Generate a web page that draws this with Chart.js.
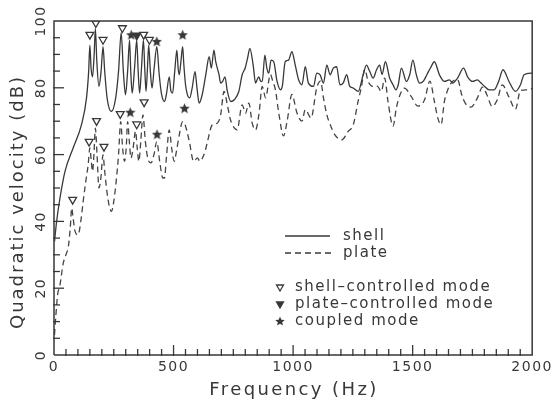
<!DOCTYPE html>
<html>
<head>
<meta charset="utf-8">
<script src="https://cdn.jsdelivr.net/npm/chart.js@4.4.1/dist/chart.umd.min.js"></script>
<style>
  body { margin: 0; background: #fff; }
  canvas { display: block; }
</style>
</head>
<body>
<canvas id="chart" width="554" height="405"></canvas>
<script>
// shell response (solid)
const shellFreq = [2, 11, 25, 46, 80, 115, 136, 145, 150, 155, 161, 168, 173, 179, 188, 197, 205, 212, 222, 240,
  258, 270, 281, 290, 299, 308, 316, 321, 327, 337, 346, 352, 358, 366, 374, 380, 385, 391, 396, 403,
  410, 419, 430, 440, 450, 462, 470, 482, 489, 496, 505, 514, 519, 524, 531, 538, 543, 550, 558, 568,
  578, 590, 598, 607, 620, 635, 649, 658, 669, 676, 683, 690, 697, 706, 715, 725, 739, 755, 773, 787,
  800, 810, 819, 833, 843, 850, 857, 864, 871, 882, 890, 898, 908, 919, 933, 947, 955, 967, 981, 995,
  1009, 1023, 1037, 1051, 1064, 1085, 1099, 1113, 1127, 1141, 1155, 1168, 1182, 1196, 1210, 1224, 1237, 1250, 1272, 1293,
  1307, 1320, 1335, 1349, 1362, 1372, 1386, 1404, 1418, 1430, 1440, 1453, 1474, 1488, 1501, 1515, 1529, 1545, 1560, 1575,
  1591, 1612, 1633, 1654, 1667, 1688, 1713, 1730, 1751, 1771, 1785, 1800, 1820, 1841, 1860, 1878, 1903, 1930, 1951, 1966,
  2000];
const shellDb = [34, 40, 47, 55, 62, 69, 77, 85, 92.8, 86, 83.3, 90, 97.8, 88, 80.4, 85, 92.3, 85, 77, 72.9,
  77, 85, 96.5, 85, 77.9, 85, 94.3, 85, 78.4, 86, 94.3, 85, 78.4, 86, 94.3, 85, 78.9, 86, 92.8, 85,
  79.9, 86, 92.3, 84, 78, 75.9, 78, 83.3, 79, 78.4, 85, 91.3, 86, 83.9, 88, 92.3, 87, 81, 77.9, 77,
  80, 84.8, 80, 75.4, 78, 84, 89.3, 85.9, 91.3, 88, 85.9, 84, 81.4, 82, 83.3, 79, 75.9, 76.5, 78.9, 83.9,
  86, 89, 91.8, 86.8, 81.4, 82.5, 83.3, 82, 81.9, 89.8, 86, 84.4, 88.3, 87.8, 81.9, 79.4, 80.5, 87.8, 88.3, 90.8,
  86.8, 82.4, 80.9, 86.3, 81.4, 80.4, 84.4, 83.9, 81.4, 86.8, 83.9, 85.9, 86.3, 80.9, 81.5, 83.9, 80.4, 80, 78.9, 83.9,
  86.8, 85, 82.9, 85.4, 86.8, 84, 87.8, 82.9, 80.9, 79.4, 81, 85.9, 81.9, 84, 88.3, 84, 81.4, 82, 84, 86,
  87.8, 83.9, 81.9, 82.4, 81.4, 82.9, 85.9, 83.3, 81.9, 82.4, 81.5, 80.5, 79.4, 79.4, 82, 85.4, 81.9, 78.9, 80.9, 83.9,
  84.4];

// plate response (dashed)
const plateFreq = [2, 8, 15, 25, 39, 50, 60, 68, 74, 80, 88, 101, 112, 122, 133, 143, 150, 156, 161, 167,
  173, 180, 188, 196, 205, 212, 225, 240, 250, 260, 270, 279, 287, 295, 302, 308, 315, 322, 331, 341,
  348, 355, 363, 372, 382, 392, 406, 418, 430, 442, 455, 462, 470, 482, 492, 503, 512, 524, 538, 548,
  556, 566, 584, 600, 610, 621, 632, 642, 662, 683, 697, 711, 725, 736, 746, 766, 787, 801, 815, 829,
  843, 857, 871, 885, 905, 915, 926, 940, 960, 975, 995, 1016, 1037, 1051, 1075, 1099, 1115, 1127, 1141, 1155,
  1175, 1203, 1231, 1252, 1272, 1285, 1300, 1314, 1335, 1352, 1369, 1383, 1397, 1418, 1432, 1445, 1466, 1494, 1522, 1550,
  1572, 1591, 1605, 1619, 1633, 1645, 1661, 1688, 1705, 1720, 1744, 1771, 1792, 1810, 1833, 1854, 1875, 1903, 1930, 1951,
  1979, 2000];
const plateDb = [6, 12, 18, 21, 27.6, 30, 32.5, 38, 44, 41, 37, 36, 40, 46, 52, 57, 62, 58, 55, 60,
  67.9, 60, 50, 53, 59.9, 55, 47, 43, 46, 52, 60, 69.9, 62, 58, 62, 69.9, 64, 59, 62, 67,
  62, 58, 64, 71.9, 64, 59, 57.5, 60, 63.9, 58, 53, 53, 59, 67.4, 62, 58, 61, 65.9, 69.9, 69,
  67, 63.9, 58, 59, 58, 59, 61, 63.9, 68.9, 69.4, 71.9, 78.9, 74.9, 71, 68.9, 67.4, 74.9, 72.4, 75.4, 69.4,
  67.4, 72, 80.4, 77, 84, 82, 79.4, 72.5, 65.6, 70, 78, 72.5, 70, 73.5, 71, 80, 82, 77, 72, 69,
  65.9, 64.4, 67, 69, 76, 80, 85.5, 81.9, 80.4, 80.5, 78.9, 82.9, 75.9, 68.5, 74, 77.5, 79.9, 77.4, 74.5, 76.4,
  82, 75.9, 71, 69, 76, 79, 81.4, 82.5, 78, 75.4, 74.2, 77, 80.2, 78, 74.4, 76.4, 80.9, 77.2, 73.6, 79.2,
  79.4, 79.8];

// mode markers
const shellCtrlFreq = [150, 175, 205, 286, 375, 399, 78, 147, 178, 209, 277, 346, 377];
const shellCtrlDb = [95.9, 99.4, 94.4, 97.9, 95.9, 94.4, 46.5, 63.9, 70.1, 62.4, 72.2, 69.1, 75.7];
const plateCtrlFreq = [346];
const plateCtrlDb = [95.7];
const coupledFreq = [323, 430, 538, 319, 431, 546];
const coupledDb = [95.9, 93.9, 95.9, 72.7, 66.1, 73.9];

const xRange = [0, 2000];
const yRange = [0, 100];
const xTicks = [0, 500, 1000, 1500, 2000];
const yTicks = [0, 20, 40, 60, 80, 100];
const xMinorStep = 50;
const yMinorStep = 5;

const ink = "#383838";
const font = "'DejaVu Sans', sans-serif";

function pairs(xs, ys) {
  return xs.map(function (v, i) { return { x: v, y: ys[i] }; });
}

// outline of the plot box, from the axis limits
const boxPts = [
  { x: xRange[0], y: yRange[0] }, { x: xRange[0], y: yRange[1] },
  { x: xRange[1], y: yRange[1] }, { x: xRange[1], y: yRange[0] },
  { x: xRange[0], y: yRange[0] },
];

function makeStar(size, color) {
  const c = document.createElement("canvas");
  c.width = size; c.height = size;
  const g = c.getContext("2d");
  const r = size / 2, ri = r * 0.45;
  g.beginPath();
  for (let i = 0; i < 10; i++) {
    const a = -Math.PI / 2 + i * Math.PI / 5;
    const rr = i % 2 ? ri : r;
    g.lineTo(r + Math.cos(a) * rr, r + Math.sin(a) * rr + 0.5);
  }
  g.closePath();
  g.fillStyle = color;
  g.fill();
  return c;
}
const star = makeStar(11, ink);
const starSmall = makeStar(10, ink);

function seg(g, x1, y1, x2, y2) {
  g.beginPath();
  g.moveTo(x1, y1);
  g.lineTo(x2, y2);
  g.stroke();
}

// inward ticks, rotated y labels, titles and legend
const frame = {
  id: "frame",
  beforeDraw(chart) {
    chart.ctx.letterSpacing = "1.5px";
  },
  afterDraw(chart) {
    const g = chart.ctx;
    const sx = chart.scales.x, sy = chart.scales.y;
    const left = sx.getPixelForValue(xRange[0]);
    const bottom = sy.getPixelForValue(yRange[0]);
    g.save();
    g.setLineDash([]);
    g.strokeStyle = ink;
    g.fillStyle = ink;
    g.lineWidth = 1.3;
    for (let v = xMinorStep; v < xRange[1]; v += xMinorStep) {
      const px = sx.getPixelForValue(v);
      const len = v % 500 === 0 ? 10 : 6;
      seg(g, px, bottom + 1, px, bottom - len);
    }
    for (let v = yMinorStep; v < yRange[1]; v += yMinorStep) {
      const py = sy.getPixelForValue(v);
      const len = v % 20 === 0 ? 10 : 6;
      seg(g, left - 1, py, left + len, py);
    }

    g.textAlign = "center";
    g.textBaseline = "middle";
    g.font = "14px " + font;
    g.letterSpacing = "1.5px";
    yTicks.forEach(function (v) {
      g.save();
      g.translate(41, sy.getPixelForValue(v));
      g.rotate(-Math.PI / 2);
      g.fillText(String(v), 0, 0);
      g.restore();
    });

    g.font = "18px " + font;
    g.letterSpacing = "2.4px";
    g.fillText("Frequency (Hz)", 294, 390);
    g.letterSpacing = "2px";
    g.save();
    g.translate(18, 202);
    g.rotate(-Math.PI / 2);
    g.fillText("Quadratic velocity (dB)", 0, 0);
    g.restore();

    // legend
    g.lineWidth = 1.3;
    seg(g, 285, 236, 330, 236);
    g.setLineDash([6, 4]);
    seg(g, 285, 253, 331, 253);
    g.setLineDash([]);

    g.font = "15px " + font;
    g.letterSpacing = "1.5px";
    g.textAlign = "left";
    g.fillText("shell", 343, 236);
    g.fillText("plate", 343, 253);
    g.fillText("shell–controlled mode", 295, 287);
    g.fillText("plate–controlled mode", 295, 304);
    g.fillText("coupled mode", 295, 321);

    g.fillStyle = "#fff";
    Chart.helpers.drawPoint(g, { pointStyle: "triangle", radius: 4, rotation: 180, borderWidth: 1.3 }, 280, 287);
    g.fillStyle = ink;
    Chart.helpers.drawPoint(g, { pointStyle: "triangle", radius: 4, rotation: 180, borderWidth: 1.3 }, 280, 304);
    Chart.helpers.drawPoint(g, { pointStyle: starSmall, radius: 5, rotation: 0, borderWidth: 0 }, 280, 321);
    g.restore();
  }
};

const ctx = document.getElementById("chart").getContext("2d");
const myChart = new Chart(ctx, {
  type: "line",
  data: {
    datasets: [
      {
        label: "box",
        data: boxPts,
        borderColor: ink,
        borderWidth: 1.5,
        pointRadius: 0,
        tension: 0,
        clip: false,
      },
      {
        label: "shell",
        data: pairs(shellFreq, shellDb),
        borderColor: ink,
        borderWidth: 1.3,
        pointRadius: 0,
        cubicInterpolationMode: "monotone",
      },
      {
        label: "plate",
        data: pairs(plateFreq, plateDb),
        borderColor: "#444",
        borderWidth: 1.3,
        borderDash: [6, 4],
        pointRadius: 0,
        cubicInterpolationMode: "monotone",
      },
      {
        label: "shell-controlled mode",
        data: pairs(shellCtrlFreq, shellCtrlDb),
        showLine: false,
        pointStyle: "triangle",
        rotation: 180,
        pointRadius: 4.5,
        pointBorderWidth: 1.3,
        pointBackgroundColor: "#fff",
        pointBorderColor: ink,
      },
      {
        label: "plate-controlled mode",
        data: pairs(plateCtrlFreq, plateCtrlDb),
        showLine: false,
        pointStyle: "triangle",
        rotation: 180,
        pointRadius: 4.5,
        pointBorderWidth: 1.3,
        pointBackgroundColor: ink,
        pointBorderColor: ink,
      },
      {
        label: "coupled mode",
        data: pairs(coupledFreq, coupledDb),
        showLine: false,
        pointStyle: star,
        pointRadius: 5,
      },
    ],
  },
  options: {
    responsive: false,
    animation: false,
    devicePixelRatio: 1,
    layout: { padding: { top: 21, right: 19, left: 0, bottom: 0 } },
    plugins: { legend: { display: false }, tooltip: { enabled: false } },
    scales: {
      x: {
        type: "linear",
        min: xRange[0],
        max: xRange[1],
        afterBuildTicks: function (scale) {
          scale.ticks = xTicks.map(function (v) { return { value: v }; });
        },
        afterFit: function (scale) { scale.height = 50; },
        grid: { display: false, drawTicks: false },
        border: { display: false },
        ticks: {
          padding: 4,
          maxRotation: 0,
          color: ink,
          font: { family: font, size: 14 },
          callback: function (v) { return String(v); },
        },
      },
      y: {
        type: "linear",
        min: yRange[0],
        max: yRange[1],
        afterBuildTicks: function (scale) {
          scale.ticks = yTicks.map(function (v) { return { value: v }; });
        },
        afterFit: function (scale) { scale.width = 54; },
        grid: { display: false, drawTicks: false },
        border: { display: false },
        ticks: { display: false },
      },
    },
  },
  plugins: [frame],
});
</script>
</body>
</html>
